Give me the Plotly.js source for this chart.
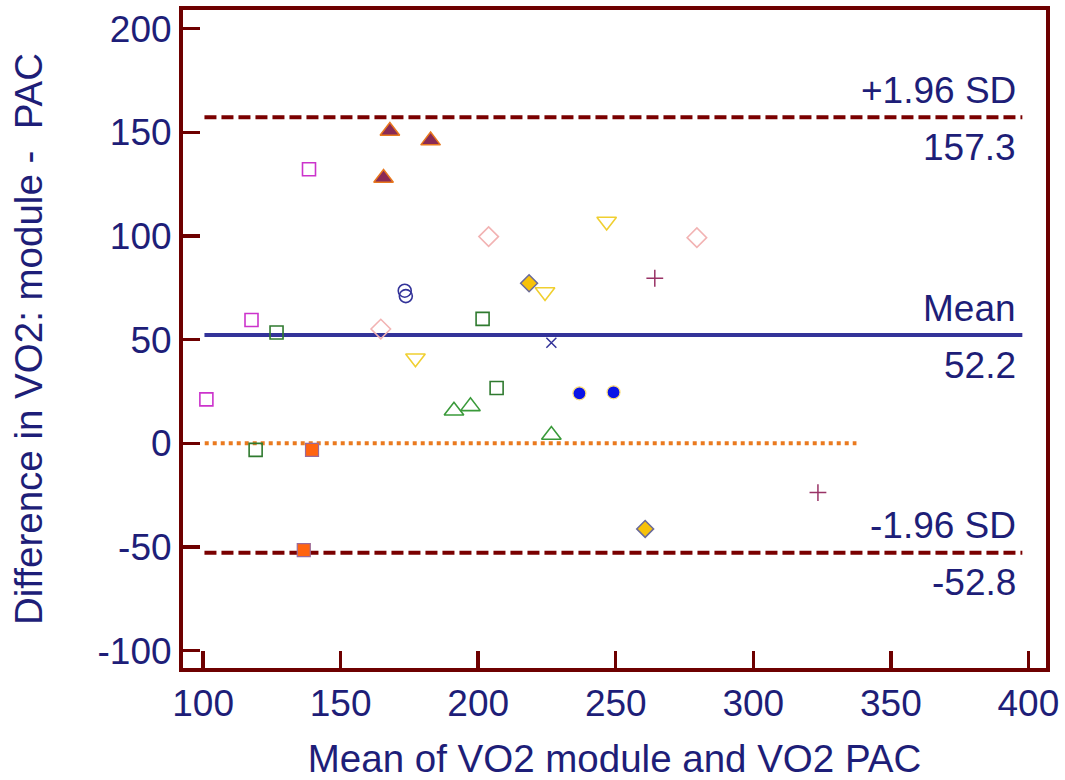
<!DOCTYPE html>
<html>
<head>
<meta charset="utf-8">
<script src="https://cdn.plot.ly/plotly-3.0.1.min.js"></script>
<style>html,body{margin:0;padding:0;background:#fff;}</style>
</head>
<body>
<div id="chart" style="width:1065px;height:780px;"></div>
<script>
// Bland-Altman plot: VO2 module vs VO2 PAC
const meanDiff = 52.2;
const upperLoA = 157.3;
const lowerLoA = -52.8;
const loaSpan = [100.5, 397.8];     // extent of the mean / limit lines
const zeroSpan = [100.6, 337.5];    // extent of the dotted zero line

// one array pair per subject (marker style)
const s1x = [167.9, 182.7, 165.6],        s1y = [150.6, 146.0, 128.0];
const s2x = [138.5, 117.6, 101.2],        s2y = [132.2, 59.5, 21.2];
const s3x = [203.8, 164.6, 279.5],        s3y = [99.7, 55.1, 99.2];
const s4x = [173.3, 173.7],               s4y = [73.6, 71.0];
const s5x = [218.5, 260.7],               s5y = [77.2, -41.3];
const s6x = [177.2, 224.3, 246.7],        s6y = [41.0, 73.0, 107.0];
const s7x = [126.7, 201.6, 206.7, 119.1], s7y = [53.4, 60.0, 26.7, -3.2];
const s8x = [191.2, 197.2, 226.6],        s8y = [15.7, 17.8, 4.0];
const s9x = [139.6, 136.6],               s9y = [-3.2, -51.5];
const s10x = [226.6],                     s10y = [48.5];
const s11x = [264.2, 323.5],              s11y = [79.6, -23.8];
const s12x = [236.8, 249.2],              s12y = [24.1, 24.6];

const xTicks = [100, 150, 200, 250, 300, 350, 400];
const yTicks = [-100, -50, 0, 50, 100, 150, 200];

const FONT = 'Liberation Sans, Arial, sans-serif';
const NAVY = '#1e1e78';
const MAROON = '#6e0000';

function pts(x, y, symbol, size, fill, lineColor, lineWidth) {
  return {
    type: 'scatter', mode: 'markers', x: x, y: y, showlegend: false,
    marker: {symbol: symbol, size: size, color: fill,
             line: {color: lineColor, width: lineWidth}}
  };
}
function hline(span, y, color, dash, width) {
  return {
    type: 'scatter', mode: 'lines', x: span, y: [y, y], showlegend: false,
    line: {color: color, dash: dash, width: width}, hoverinfo: 'skip'
  };
}

const traces = [
  hline(zeroSpan, 0, '#ea7a1f', '4px,4px', 4),
  hline(loaSpan, upperLoA, '#7a0000', '12px,5px', 4),
  hline(loaSpan, lowerLoA, '#7a0000', '12px,5px', 4),
  hline(loaSpan, meanDiff, '#333399', 'solid', 4),
  pts(s1x, s1y, 'triangle-up', 17, '#8a2a55', '#e8781e', 1.5),
  pts(s2x, s2y, 'square-open', 13, '#cc33cc', '#cc33cc', 1.6),
  pts(s3x, s3y, 'diamond-open', 15, '#f2b3b3', '#f2b3b3', 1.6),
  pts(s4x, s4y, 'circle-open', 13, '#333399', '#333399', 1.6),
  pts(s5x, s5y, 'diamond', 13, '#f7c20a', '#6a6a9a', 1.5),
  pts(s6x, s6y, 'triangle-down-open', 17, '#f0cf30', '#f0cf30', 1.6),
  pts(s7x, s7y, 'square-open', 13, '#2f7a2f', '#2f7a2f', 1.6),
  pts(s8x, s8y, 'triangle-up-open', 17, '#3a9a3a', '#3a9a3a', 1.6),
  pts(s9x, s9y, 'square', 13, '#ff6410', '#9a6a9a', 1.2),
  pts(s10x, s10y, 'x-thin-open', 10, '#333399', '#333399', 1.5),
  pts(s11x, s11y, 'cross-thin-open', 12, '#993366', '#993366', 1.5),
  pts(s12x, s12y, 'circle', 13, '#0a14e6', '#ffe07a', 1.2)
];

function label(y, text, shift) {
  return {
    xref: 'x', yref: 'y', x: 396.3, y: y, text: text, showarrow: false,
    xanchor: 'right', yanchor: 'middle', yshift: shift,
    font: {family: FONT, size: 37, color: NAVY}
  };
}

const layout = {
  width: 1065, height: 780,
  margin: {l: 183, r: 19, t: 10, b: 112},
  paper_bgcolor: '#ffffff', plot_bgcolor: '#ffffff',
  showlegend: false,
  xaxis: {
    range: [92.7, 406.4], tickvals: xTicks, ticktext: xTicks.map(String),
    ticks: 'inside', ticklen: 17, tickwidth: 3.5, tickcolor: MAROON,
    showline: true, linecolor: MAROON, linewidth: 4, mirror: true,
    showgrid: false, zeroline: false,
    tickfont: {family: FONT, size: 37, color: NAVY},
    title: {text: 'Mean of VO2 module and VO2 PAC', standoff: 25,
            font: {family: FONT, size: 38.5, color: NAVY}}
  },
  yaxis: {
    range: [-108.4, 209.0], tickvals: yTicks, ticktext: yTicks.map(String),
    ticks: 'inside', ticklen: 17, tickwidth: 3.5, tickcolor: MAROON,
    showline: true, linecolor: MAROON, linewidth: 4, mirror: true,
    showgrid: false, zeroline: false,
    tickfont: {family: FONT, size: 37, color: NAVY},
    title: {text: 'Difference in VO2: module -  PAC', standoff: 44,
            font: {family: FONT, size: 38.5, color: NAVY}}
  },
  annotations: [
    label(upperLoA, '+1.96 SD', 27),
    label(upperLoA, upperLoA.toFixed(1), -30),
    label(meanDiff, 'Mean', 27),
    label(meanDiff, meanDiff.toFixed(1), -30),
    label(lowerLoA, '-1.96 SD', 27),
    label(lowerLoA, lowerLoA.toFixed(1), -30)
  ]
};

Plotly.newPlot('chart', traces, layout, {displayModeBar: false, staticPlot: true});
</script>
</body>
</html>
